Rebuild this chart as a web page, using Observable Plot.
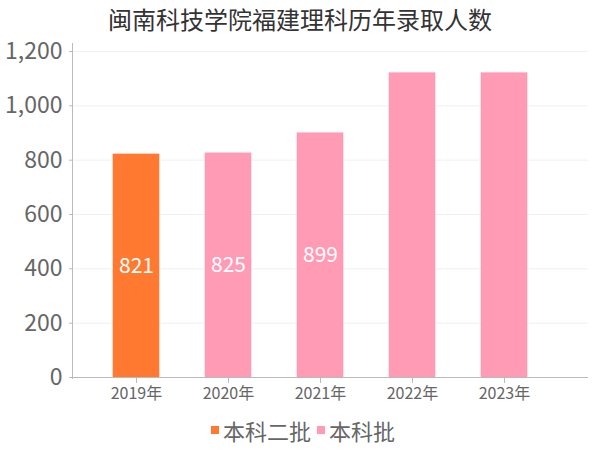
<!DOCTYPE html>
<html>
<head>
<meta charset="utf-8">
<script src="https://cdn.jsdelivr.net/npm/d3@7"></script>
<script src="https://cdn.jsdelivr.net/npm/@observablehq/plot@0.6"></script>
<style>
  body { margin: 0; background: white; font-family: 'Noto Sans CJK SC', 'Noto Sans', sans-serif; }
  #wrap { width: 600px; height: 450px; position: relative; overflow: hidden; }
  #title { height: 40px; line-height: 38px; text-align: center; font-size: 24px; color: #333; }
  #legend { height: 40px; display: flex; justify-content: center; align-items: center; font-size: 22px; color: #666; }
  .sw { display: inline-block; width: 8px; height: 8px; margin: 0 4px 0 6px; }
</style>
</head>
<body>
<div id="wrap">
  <div id="title">闽南科技学院福建理科历年录取人数</div>
  <div id="chart"></div>
  <div id="legend"></div>
</div>
<script>
const years = ["2019年", "2020年", "2021年", "2022年", "2023年"];
const counts = [821, 825, 899, 1120, 1120];
const batches = ["本科二批", "本科批", "本科批", "本科批", "本科批"];
const showLabel = [true, true, true, false, false];
const yTicks = [0, 200, 400, 600, 800, 1000, 1200];
const batchNames = ["本科二批", "本科批"];
const batchColors = ["#ff7a30", "#ff9bb5"];

const data = years.map((y, i) => ({year: y, count: counts[i], batch: batches[i], show: showLabel[i]}));

const chart = Plot.plot({
  width: 600,
  height: 370,
  marginTop: 3,
  marginBottom: 32,
  marginLeft: 72,
  marginRight: 12,
  style: {fontFamily: "'Noto Sans CJK SC', 'Noto Sans', sans-serif", background: "white", overflow: "visible"},
  x: {domain: years, range: [90, 550], paddingInner: 0.5, paddingOuter: 0.25, label: null},
  y: {domain: [0, 1200], range: [337, 11], label: null},
  color: {domain: batchNames, range: batchColors},
  marks: [
    Plot.gridY(yTicks, {stroke: "#f0f0f0", strokeOpacity: 1}),
    Plot.barY(data, {x: "year", y: "count", fill: "batch", stroke: "batch", strokeOpacity: 0.6}),
    Plot.ruleY([0], {stroke: "#bbb"}),
    Plot.frame({anchor: "left", stroke: "#bbb"}),
    Plot.axisY(yTicks, {tickFormat: d3.format(","), fontSize: 23, fill: "#666", stroke: "#bbb", tickSize: 3, tickPadding: 7, label: null}),
    Plot.axisX({fontSize: 16, fill: "#666", stroke: "#bbb", tickSize: 5, tickPadding: 4, label: null}),
    Plot.text(data.filter(d => d.show), {x: "year", y: d => d.count / 2, text: d => String(d.count), fill: "white", fontSize: 21})
  ]
});
document.getElementById("chart").appendChild(chart);

const legend = document.getElementById("legend");
batchNames.forEach((name, i) => {
  const sw = document.createElement("span");
  sw.className = "sw";
  sw.style.background = batchColors[i];
  legend.appendChild(sw);
  const t = document.createElement("span");
  t.textContent = name;
  legend.appendChild(t);
});
</script>
</body>
</html>
